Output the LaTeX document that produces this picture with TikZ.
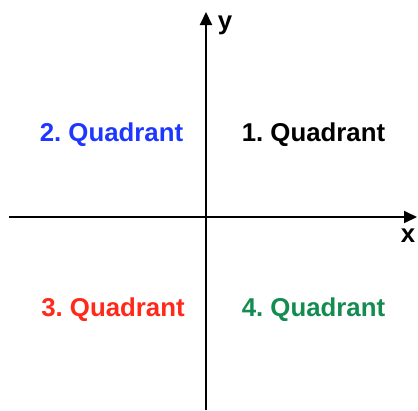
\documentclass[tikz,border=0pt]{standalone}
\usepackage{fontspec}
\setmainfont{Liberation Sans}
\frenchspacing
\usetikzlibrary{arrows.meta}
\definecolor{qblue}{RGB}{30,55,255}
\definecolor{qred}{RGB}{255,40,25}
\definecolor{qgreen}{RGB}{20,140,80}
\tikzset{
  axis/.style={line width=2pt, -{Triangle[length=13pt,width=12pt]}},
  qlabel/.style={font=\fontsize{25.8}{30}\selectfont\bfseries, inner sep=0pt, anchor=center},
  axlabel/.style={font=\fontsize{25.8}{30}\selectfont\bfseries, inner sep=0pt, anchor=center}
}
\begin{document}
\begin{tikzpicture}[x=1pt,y=-1pt]
\useasboundingbox (0,0) rectangle (418,410);
\coordinate (xs) at (9,217);
\coordinate (xe) at (417,217);
\coordinate (ys) at (206,410);
\coordinate (ye) at (206,12);
\draw[axis] (xs) -- (xe);
\draw[axis] (ys) -- (ye);
\node[axlabel] (ylab) at (225,25) {y};
\node[axlabel] (xlab) at (408,236) {x};
\node[qlabel, text=black] (q1) at (313.5,134.5) {1. Quadrant};
\node[qlabel, text=qblue] (q2) at (111.5,134.5) {2. Quadrant};
\node[qlabel, text=qred] (q3) at (113,310) {3. Quadrant};
\node[qlabel, text=qgreen] (q4) at (313.5,310) {4. Quadrant};
\end{tikzpicture}
\end{document}
